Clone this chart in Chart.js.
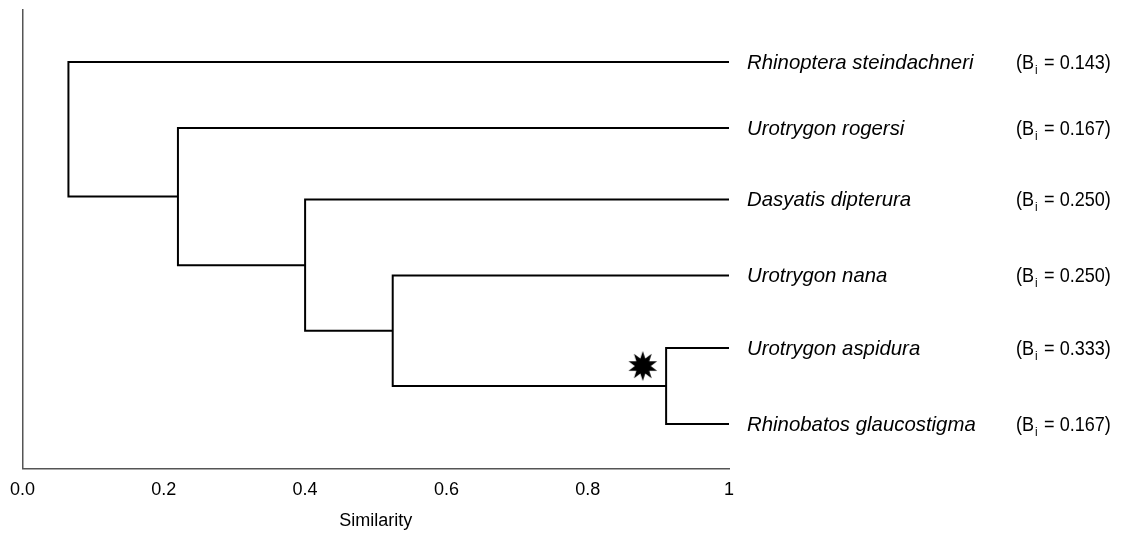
<!DOCTYPE html>
<html>
<head>
<meta charset="utf-8">
<script src="https://cdn.jsdelivr.net/npm/chart.js@4.4.1/dist/chart.umd.min.js"></script>
<style>
  html, body { margin: 0; padding: 0; background: #fff; }
  #wrap { width: 1121px; height: 533px; }
</style>
</head>
<body>
<div id="wrap"><canvas id="myChart" width="1121" height="533"></canvas></div>
<script>
// leaves, top to bottom
const leafNames = [
  'Rhinoptera steindachneri',
  'Urotrygon rogersi',
  'Dasyatis dipterura',
  'Urotrygon nana',
  'Urotrygon aspidura',
  'Rhinobatos glaucostigma',
];
const leafB = ['0.143', '0.167', '0.250', '0.250', '0.333', '0.167'];
const leafY = [1, 1.91, 2.9, 3.95, 4.95, 6.0];

// merges: node 6+k joins mergeLeft[k] and mergeRight[k] at similarity mergeX[k]
const mergeLeft = [4, 3, 2, 1, 0];
const mergeRight = [5, 6, 7, 8, 9];
const mergeX = [0.911, 0.524, 0.40, 0.22, 0.065];

const xTicks = [0, 0.2, 0.4, 0.6, 0.8, 1];
const xTickLabels = ['0.0', '0.2', '0.4', '0.6', '0.8', '1'];

const starPoint = [{ x: 0.878, y: 5.2 }];

const FONT = "'Liberation Sans', Arial, sans-serif";

const nodeX = leafY.map(() => 1);
const nodeY = leafY.slice();
const datasets = [];
for (let k = 0; k < mergeX.length; k++) {
  const a = mergeLeft[k];
  const b = mergeRight[k];
  const h = mergeX[k];
  datasets.push({
    type: 'line',
    data: [
      { x: nodeX[a], y: nodeY[a] },
      { x: h, y: nodeY[a] },
      { x: h, y: nodeY[b] },
      { x: nodeX[b], y: nodeY[b] },
    ],
    borderColor: '#000',
    borderWidth: 2,
    pointRadius: 0,
    fill: false,
    tension: 0,
  });
  nodeX.push(h);
  nodeY.push((nodeY[a] + nodeY[b]) / 2);
}

// filled star marker
function makeStar(points, outer, inner) {
  const c = document.createElement('canvas');
  const size = outer * 2 + 2;
  c.width = size;
  c.height = size;
  const g = c.getContext('2d');
  g.fillStyle = '#000';
  g.beginPath();
  for (let i = 0; i < points * 2; i++) {
    const r = i % 2 === 0 ? outer : inner;
    const ang = -Math.PI / 2 + i * Math.PI / points;
    const px = size / 2 + r * Math.cos(ang);
    const py = size / 2 + r * Math.sin(ang);
    if (i === 0) g.moveTo(px, py); else g.lineTo(px, py);
  }
  g.closePath();
  g.fill();
  return c;
}

datasets.push({
  type: 'scatter',
  data: starPoint,
  pointStyle: makeStar(10, 15, 8),
  pointRadius: 15,
});

// text squeezed horizontally (the original uses a narrow face)
function narrowText(ctx, text, x, y, font, sx) {
  ctx.save();
  ctx.font = font;
  ctx.translate(x, y);
  ctx.scale(sx, 1);
  ctx.fillText(text, 0, 0);
  const w = ctx.measureText(text).width * sx;
  ctx.restore();
  return w;
}

const leafLabels = {
  id: 'leafLabels',
  afterDraw(chart) {
    const ctx = chart.ctx;
    const xs = chart.scales.x;
    const ys = chart.scales.y;
    const x0 = xs.getPixelForValue(1);
    ctx.save();
    ctx.fillStyle = '#000';
    ctx.textBaseline = 'middle';
    ctx.textAlign = 'left';
    leafNames.forEach((name, i) => {
      const y = ys.getPixelForValue(leafY[i]) + 1;
      narrowText(ctx, name, x0 + 18, y, 'italic 21px ' + FONT, 0.97);
      let bx = x0 + 287;
      bx += narrowText(ctx, '(B', bx, y, '21px ' + FONT, 0.86);
      narrowText(ctx, 'i', bx + 1, y + 7, '13px ' + FONT, 0.9);
      bx += 5;
      narrowText(ctx, ' = ' + leafB[i] + ')', bx, y, '21px ' + FONT, 0.86);
    });
    ctx.restore();
  }
};

const ctx = document.getElementById('myChart').getContext('2d');
new Chart(ctx, {
  data: { datasets },
  options: {
    responsive: false,
    animation: false,
    layout: { autoPadding: false, padding: { left: 10, right: 392, top: 10, bottom: 1 } },
    plugins: {
      legend: { display: false },
      tooltip: { enabled: false },
    },
    scales: {
      x: {
        type: 'linear',
        min: 0,
        max: 1,
        afterBuildTicks: (axis) => { axis.ticks = xTicks.map(v => ({ value: v })); },
        ticks: {
          callback: (v) => xTickLabels[xTicks.indexOf(v)],
          color: '#000',
          font: { family: FONT, size: 18 },
          padding: 10,
          maxRotation: 0,
        },
        grid: { display: false, drawTicks: false },
        border: { display: true, color: '#555', width: 1.5 },
        title: {
          display: true,
          text: 'Similarity',
          color: '#000',
          font: { family: FONT, size: 18 },
          padding: { top: 0, bottom: 0 },
        },
      },
      y: {
        type: 'linear',
        min: 0.28,
        max: 6.62,
        reverse: true,
        ticks: { display: false },
        grid: { display: false, drawTicks: false },
        border: { display: true, color: '#555', width: 1.5 },
      },
    },
  },
  plugins: [leafLabels],
});
</script>
</body>
</html>
